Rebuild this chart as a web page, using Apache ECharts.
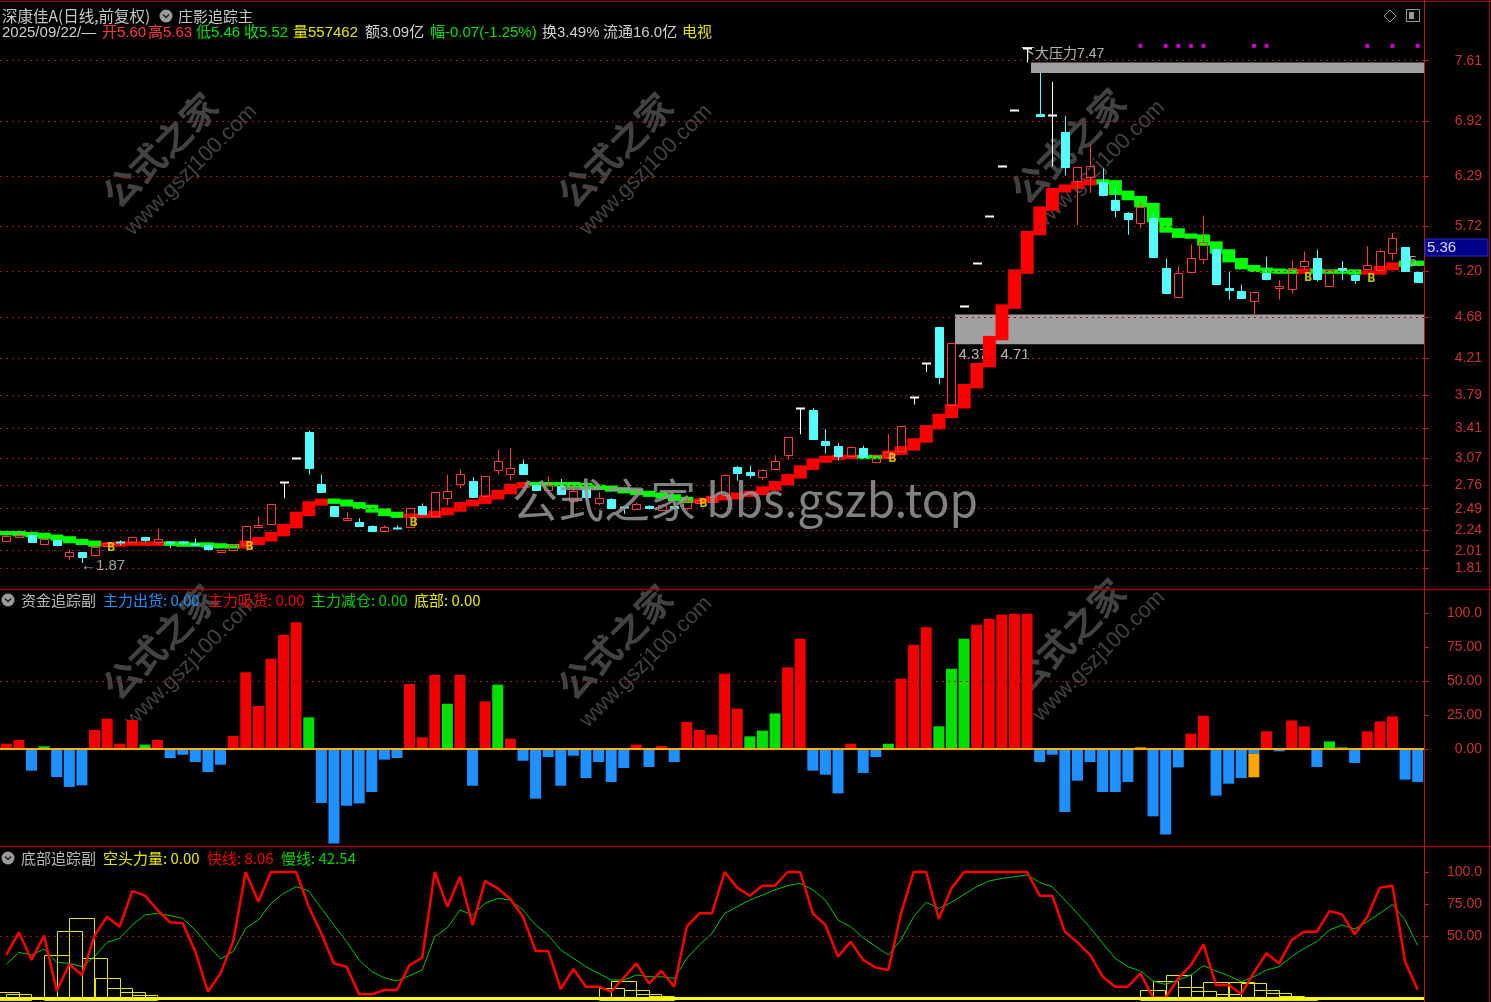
<!DOCTYPE html>
<html>
<head>
<meta charset="utf-8">
<script src="https://cdn.jsdelivr.net/npm/echarts@6.0.0/dist/echarts.min.js"></script>
<style>
html,body{margin:0;padding:0;background:#000;overflow:hidden;}
#main{width:1491px;height:1002px;}
</style>
</head>
<body>
<div id="main"></div>
<script>
// ---------------- DATA ----------------
const N = 113;
const days = Array.from({length: N}, (_, i) => i);

const opens = [
2.12,2.17,2.19,2.09,2.13,1.95,1.99,1.96,2.06,2.11,
2.11,2.17,2.11,2.11,2.11,2.09,2.07,2.00,2.02,2.07,
2.28,2.32,2.79,3.07,3.37,2.77,2.52,2.36,2.34,2.29,
2.24,2.27,2.28,2.52,2.41,2.61,2.77,2.81,2.63,2.93,
2.89,3.00,2.76,2.70,2.75,2.58,2.71,2.56,2.60,2.51,
2.49,2.52,2.48,2.52,2.50,2.56,2.57,2.65,2.97,2.91,
2.85,2.94,3.10,3.64,3.62,3.26,3.21,3.09,3.18,3.02,
3.08,3.15,3.77,4.15,4.57,3.68,4.81,5.30,5.83,6.41,
7.05,7.75,7.00,6.99,6.79,6.24,6.28,6.22,6.02,5.87,
5.75,5.81,5.24,4.91,5.19,5.34,5.46,5.01,4.98,4.86,
5.18,5.01,5.00,5.26,5.35,5.04,5.24,5.16,5.23,5.22,
5.41,5.48,5.19];
const closes = [
2.18,2.19,2.11,2.14,2.07,2.00,1.94,2.05,2.10,2.10,
2.17,2.13,2.14,2.10,2.10,2.08,2.03,2.02,2.07,2.29,
2.30,2.54,2.79,3.07,2.96,2.68,2.41,2.38,2.29,2.24,
2.28,2.26,2.50,2.43,2.68,2.69,2.89,2.62,2.86,3.04,
2.96,2.89,2.70,2.76,2.66,2.69,2.62,2.61,2.50,2.50,
2.54,2.50,2.53,2.50,2.58,2.59,2.62,2.88,2.90,2.88,
2.93,3.04,3.31,3.64,3.29,3.22,3.09,3.19,3.08,3.10,
3.14,3.43,3.77,4.15,3.99,4.38,4.81,5.30,5.83,6.41,
7.05,7.75,6.98,6.99,6.40,6.39,6.41,6.08,5.90,5.80,
5.94,5.37,4.95,5.18,5.35,5.54,5.06,4.99,4.90,4.97,
5.12,5.04,5.24,5.32,5.11,5.22,5.22,5.10,5.28,5.43,
5.58,5.21,5.08];
const highs = [
2.19,2.20,2.19,2.15,2.13,2.02,1.99,2.05,2.11,2.13,
2.17,2.17,2.26,2.11,2.12,2.15,2.08,2.02,2.07,2.29,
2.40,2.54,2.79,3.07,3.38,2.88,2.52,2.45,2.38,2.30,
2.30,2.30,2.50,2.55,2.68,2.88,2.94,2.85,2.86,3.16,
3.18,3.05,2.77,2.86,2.83,2.76,2.72,2.68,2.61,2.51,
2.56,2.53,2.55,2.54,2.63,2.62,2.70,2.88,2.98,2.98,
2.94,3.10,3.31,3.64,3.64,3.40,3.24,3.20,3.21,3.11,
3.34,3.43,3.77,4.15,4.57,4.38,4.81,5.30,5.83,6.41,
7.05,7.75,7.47,7.37,6.98,6.40,6.65,6.38,6.15,5.88,
5.99,5.87,5.35,5.26,5.51,5.84,5.46,5.20,5.05,4.97,
5.37,5.10,5.33,5.43,5.45,5.22,5.32,5.20,5.49,5.45,
5.64,5.48,5.20];
const lows = [
2.11,2.16,2.11,2.08,2.06,1.90,1.87,1.96,2.05,2.07,
2.11,2.11,2.07,2.04,2.07,2.07,2.01,1.99,2.02,2.07,
2.27,2.32,2.61,3.07,2.88,2.67,2.41,2.35,2.28,2.23,
2.23,2.25,2.27,2.42,2.41,2.53,2.72,2.61,2.63,2.88,
2.81,2.88,2.69,2.68,2.65,2.55,2.58,2.53,2.49,2.43,
2.48,2.48,2.47,2.48,2.47,2.55,2.56,2.64,2.81,2.84,
2.82,2.93,3.05,3.34,3.28,3.12,3.04,3.08,3.07,3.01,
3.06,3.14,3.68,4.05,3.91,3.66,4.81,5.30,5.83,6.41,
7.05,7.59,6.98,6.40,6.30,5.73,6.10,6.06,5.82,5.62,
5.70,5.37,4.94,4.91,5.18,5.29,5.06,4.88,4.89,4.71,
5.10,4.88,4.95,5.22,5.09,5.03,5.10,5.06,5.22,5.21,
5.33,5.21,5.07];

// trend band ("庄影" line) value and state (1 = red / up, 0 = green / down)
const bandLine = [
2.21,2.20,2.19,2.17,2.15,2.12,2.10,2.08,2.08,2.09,
2.09,2.09,2.09,2.09,2.08,2.08,2.07,2.06,2.06,2.10,
2.14,2.20,2.29,2.43,2.55,2.58,2.57,2.54,2.51,2.47,
2.43,2.41,2.41,2.41,2.44,2.48,2.54,2.57,2.62,2.68,
2.75,2.77,2.77,2.77,2.77,2.76,2.74,2.73,2.71,2.69,
2.67,2.65,2.63,2.60,2.58,2.58,2.61,2.62,2.65,2.67,
2.72,2.78,2.86,2.96,3.04,3.07,3.08,3.08,3.08,3.08,
3.13,3.18,3.27,3.42,3.55,3.66,3.89,4.13,4.44,4.80,
5.20,5.64,5.92,6.13,6.17,6.21,6.23,6.22,6.10,6.04,
5.96,5.79,5.67,5.61,5.60,5.52,5.43,5.33,5.25,5.22,
5.21,5.20,5.20,5.21,5.20,5.20,5.20,5.19,5.19,5.24,
5.28,5.30,5.29];
const bandState = [
0,0,0,0,0,0,0,0,1,1, 1,1,1,0,0,0,0,0,0,1,
1,1,1,1,1,1,0,0,0,0, 0,0,1,1,1,1,1,1,1,1,
1,1,0,0,0,0,0,0,0,0, 0,0,0,0,0,1,1,1,1,1,
1,1,1,1,1,1,1,1,0,0, 1,1,1,1,1,1,1,1,1,1,
1,1,1,1,1,1,1,0,0,0, 0,0,0,0,0,0,0,0,0,0,
0,0,0,1,0,0,0,0,1,1, 1,0,0];

const buyIdx = [8, 19, 32, 55, 70, 103, 108];
const buyVal = [2.04, 2.06, 2.33, 2.55, 3.06, 5.13, 5.12];
const signalIdx = [90, 92, 93, 94, 95, 99, 100, 108, 110, 112];
const signalVal = 7.78;
const zoneBoxes = [[81, 7.47, 7.59], [75, 4.37, 4.71]];
const priceTicks = [7.61,6.92,6.29,5.72,5.20,4.68,4.21,3.79,3.41,3.07,2.76,2.49,2.24,2.01,1.81];

// 资金追踪副
const flowVal = [
3.9,6.6,-15.9,2,-20.6,-27.9,-26.7,14,22.3,3.9,
21.3,3.2,6.6,-6.6,-4.2,-9.6,-16.9,-11.5,9.6,56.4,
31.6,66.4,83.8,93.1,23.3,-39.7,-69.4,-41.7,-40,-31.6,
-7.8,-6.6,47.8,8.6,54.4,33.3,54.4,-27,35,47.3,
7.6,-8.6,-36.5,-5.9,-27,-4.9,-21.3,-9.6,-24.3,-14,
3.2,-13.2,2.2,-9.6,19.9,14,10.5,55.4,29.7,9.3,
13.5,26.2,60,81,-15.9,-18.9,-32.6,3.9,-17.6,-5.9,
3.9,51.7,76.7,89.5,16.7,59,81,91.4,95.6,98.8,
99.5,99.5,-9.6,-4.2,-46.3,-23.3,-9.6,-31.6,-31.6,-24.3,
1.2,-49.5,-62.9,-13.5,11.3,24.5,-34.3,-25.5,-21.3,-3.4,
13,-1.7,21,16.7,-13.2,5.6,1.2,-10.3,13,20.3,
24,-22.5,-24.3];
const flowKind =
"rrbgbbbrrr" + "rgrbbbbbrr" + "rrrrgbbbbb" + "bbrrrgrbrg" + "rbbbbbbbbb" +
"rbrbrrrrrg" + "ggrrbbbrbb" + "grrrgggrrr" + "rrbbbbbbbb" + "obbbrrbbbb" +
"rbrrbggbrr" + "rbb";
const flowOrangeExtra = Array.from({length: N}, () => null);
flowOrangeExtra[99] = -17.4;
const flowTicks = [100, 75, 50, 25, 0];

// 底部追踪副
const fastLine = [
35.2,52.9,31.3,50.3,7.0,27.9,19.5,50.3,65.1,57.3,
85.2,81.5,70.3,60.7,59.9,37.8,6.5,20.8,45.6,100,
76.8,100,100,100,72.9,52,28.6,26,4.4,4.4,
7.8,7.8,27.3,33,100,72.9,96.4,58.6,93,87.2,
78.9,65.1,38.3,38.3,8.6,24.2,10.4,10.4,6.5,17.4,
28.6,13,22.7,10.4,57.3,67.7,67.7,100,87.8,81.5,
89.3,89.3,100,100,67.7,58.6,33.9,45.6,31.3,25.3,
23.4,67.7,100,100,63.3,87.2,100,100,100,100,
100,100,81.5,81.5,53.4,45,35.2,18.2,10.4,10.4,
20.8,1.8,1.8,16.9,27.3,43.5,11.7,11.7,4.7,21.4,
36.5,28.6,46.9,53.4,53.4,69.5,66.9,51.3,65.1,87.8,
89.3,29.9,8.06];
const slowLine = [
27.9,37.2,35.2,39.8,29.4,28.6,26,33.9,45,48.2,
58.6,66.4,67.7,65.9,63.8,54.7,43,32,37.8,56,
62.5,75.5,83.3,88.5,85.2,71.6,58.6,45.6,31.3,22.1,
17.4,14.8,19,23.4,49.5,56.5,70.3,66.4,75.5,79.4,
78.1,70.3,58.6,50.8,39,32.6,26,20.8,15.6,15.6,
19.5,18.2,18.2,16.9,32.6,43,52.1,67.7,72.9,78,
82,86,89.3,91.1,86,78,62.5,57.3,48.7,41.7,
35.2,46.9,65.1,76.3,71.6,76.3,82.6,88.5,93,95,
96.4,97.7,91.9,88.5,78.1,67.7,56.5,44.3,32.6,26,
22.7,14.8,12.2,15.6,19.5,26.8,22.7,19,14.3,18.2,
23.4,26,33.9,40.4,45.6,54.7,58.6,55.5,61.2,67.7,
74.7,62.5,42.54];
const bearPower = [
6.5,4.4,0,0,35.2,53.9,64.3,33,17.4,9.6,
6,3.9,0,0,0,0,0,0,0,0,
0,0,0,0,0,0,0,0,0,0,
0,0,0,0,0,0,0,0,0,0,
0,0,0,0,0,0,0,0,9.1,14.8,
7.8,4.7,3.4,0,0,0,0,0,0,0,
0,0,0,0,0,0,0,0,0,0,
0,0,0,0,0,0,0,0,0,0,
0,0,0,0,0,0,0,0,0,0,
0,7.8,14.8,19.5,10.4,7,13.8,5,13.8,13,
7.8,5.2,3.4,2.6,0,0,0,0,0,0,
0,0,0];
const lineTicks = [100, 75, 50];

// ---------------- STYLE ----------------
const LAT = '"Liberation Sans","Noto Sans CJK SC",sans-serif';
const CJK = '"Noto Sans CJK SC","Liberation Sans",sans-serif';
const UP = '#ff3c3c', DN = '#54ffff', DOJI = '#ffffff';
const AXC = '#b01c1c', LABC = '#c83232';
const GRIDC = '#8c1a1a';
const KIND = {r: '#f00000', g: '#00e000', b: '#1e90ff', o: '#ffa500'};

const candleData = opens.map((o, i) => [i, o, closes[i], lows[i], highs[i]]);
const bandData = bandLine.map((v, i) => [i, i ? bandLine[i - 1] : v, v, bandState[i]]);
const flowData = flowVal.map((v, i) => ({value: v, itemStyle: {color: KIND[flowKind[i]]}}));
const bearData = bearPower.map((v, i) => [i, v]);

function renderCandle(params, api) {
  const i = api.value(0), o = api.value(1), c = api.value(2), l = api.value(3), h = api.value(4);
  const po = api.coord([i, o]);
  const x = Math.round(po[0]) + 0.5;
  const yo = po[1], yc = api.coord([i, c])[1], yl = api.coord([i, l])[1], yh = api.coord([i, h])[1];
  let col, fill;
  if (c > o) { col = UP; fill = 'rgba(0,0,0,0)'; }
  else if (c < o) { col = DN; fill = DN; }
  else { col = DOJI; fill = DOJI; }
  const top = Math.round(Math.min(yo, yc)) + 0.5, bot = Math.round(Math.max(yo, yc)) + 0.5;
  const ch = [];
  if (yh < top - 0.5) ch.push({type: 'line', shape: {x1: x, y1: yh, x2: x, y2: top}, style: {stroke: col, lineWidth: 1}});
  if (yl > bot + 0.5) ch.push({type: 'line', shape: {x1: x, y1: bot, x2: x, y2: yl}, style: {stroke: col, lineWidth: 1}});
  if (bot - top < 1.5) {
    ch.push({type: 'rect', shape: {x: x - 4.5, y: top - 1, width: 9, height: 2}, style: {fill: col}});
  } else {
    ch.push({type: 'rect', shape: {x: x - 4, y: top, width: 8, height: bot - top}, style: {stroke: col, fill: fill, lineWidth: 1}});
  }
  return {type: 'group', children: ch};
}
function renderBand(params, api) {
  const i = api.value(0), p = api.value(1), c = api.value(2), s = api.value(3);
  const a = api.coord([i, p]), b = api.coord([i, c]);
  const w = api.size([1, 0])[0];
  const y1 = Math.min(a[1], b[1]) - 2.2, y2 = Math.max(a[1], b[1]) + 2.2;
  return {type: 'rect', shape: {x: a[0] - w / 2, y: y1, width: w + 0.3, height: y2 - y1}, style: {fill: s ? '#ff0000' : '#00ff00'}};
}
function renderBox(params, api) {
  const i = api.value(0), lo = api.value(1), hi = api.value(2);
  const p1 = api.coord([i, hi]), p2 = api.coord([i, lo]);
  const right = params.coordSys.x + params.coordSys.width;
  const x0 = Math.round(p1[0] + 4);
  return {type: 'rect', shape: {x: x0, y: p1[1], width: right - x0, height: p2[1] - p1[1]}, style: {fill: '#a0a0a0'}};
}
function renderBear(params, api) {
  const i = api.value(0), v = api.value(1);
  if (!(v > 0)) return null;
  const a = api.coord([i, v]), b = api.coord([i, 0]);
  const w = api.size([1, 0])[0];
  return {type: 'rect', shape: {x: Math.round(a[0] - w) + 0.5, y: Math.round(a[1]) + 0.5, width: Math.round(2 * w), height: Math.round(b[1] - a[1])},
          style: {stroke: '#e6e600', fill: 'rgba(0,0,0,0)', lineWidth: 1}};
}

const fmt = v => (v >= 100 ? v.toFixed(1) : v.toFixed(2));
function yAx(grid, min, max, ticks) {
  return {
    type: 'value', gridIndex: grid, position: 'right', min: min, max: max, scale: true,
    axisLine: {show: true, lineStyle: {color: AXC, width: 1}},
    axisTick: {show: true, customValues: ticks, length: 5, lineStyle: {color: AXC}},
    axisLabel: {show: true, customValues: ticks, formatter: fmt, color: LABC, fontSize: 14, fontFamily: LAT, margin: 58, align: 'right'},
    splitLine: {show: false}
  };
}
function xAx(grid) {
  return {type: 'category', gridIndex: grid, data: days, boundaryGap: true, show: false};
}
const dotted = ticks => ({
  silent: true, symbol: ['none', 'none'], label: {show: false},
  lineStyle: {color: GRIDC, type: [2, 4], width: 1},
  data: ticks.map(v => ({yAxis: v}))
});

const minLow = Math.min(...lows);
const minLowIdx = lows.indexOf(minLow);

// ---------------- GRAPHIC (headers, frame, watermark) ----------------
const g = [];
function txt(x, y, t, color, font, extra) {
  g.push(Object.assign({type: 'text', x: x, y: y, z: 50, style: {text: t, fill: color, font: font || ('15px ' + CJK), verticalAlign: 'middle'}}, extra || {}));
}
function icon(x, y) {
  g.push({type: 'circle', z: 50, shape: {cx: x, cy: y, r: 6.5}, style: {fill: '#9a9a9a'}});
  g.push({type: 'polyline', z: 51, shape: {points: [[x - 3, y - 1.5], [x, y + 1.5], [x + 3, y - 1.5]]}, style: {stroke: '#202020', lineWidth: 1.5, fill: null}});
}
const frameC = '#a00000';
g.push({type: 'line', z: 40, shape: {x1: 0, y1: 1.5, x2: 1491, y2: 1.5}, style: {stroke: frameC, lineWidth: 1}});
g.push({type: 'line', z: 40, shape: {x1: 0, y1: 589.5, x2: 1491, y2: 589.5}, style: {stroke: frameC, lineWidth: 1.5}});
g.push({type: 'line', z: 40, shape: {x1: 0, y1: 846.5, x2: 1491, y2: 846.5}, style: {stroke: frameC, lineWidth: 1.5}});
g.push({type: 'line', z: 40, shape: {x1: 1424.5, y1: 0, x2: 1424.5, y2: 1002}, style: {stroke: AXC, lineWidth: 1}});
g.push({type: 'line', z: 40, shape: {x1: 1489.5, y1: 0, x2: 1489.5, y2: 1002}, style: {stroke: frameC, lineWidth: 1}});

txt(2, 16, '深康佳A(日线,前复权)', '#c8c8c8', '15.5px ' + CJK);
icon(166, 16);
txt(178, 16, '庄影追踪主', '#c8c8c8');
g.push({type: 'polygon', z: 50, shape: {points: [[1390, 10], [1396, 16], [1390, 22], [1384, 16]]}, style: {stroke: '#9a9a9a', fill: null, lineWidth: 1}});
g.push({type: 'rect', z: 50, shape: {x: 1406.5, y: 9.5, width: 13, height: 12}, style: {stroke: '#9a9a9a', fill: null, lineWidth: 1}});
g.push({type: 'rect', z: 50, shape: {x: 1409, y: 12, width: 5, height: 7}, style: {fill: '#9a9a9a'}});
const H2 = [
  [2, '2025/09/22/—', '#d0d0d0'], [102, '开5.60', '#ff3c3c'], [148, '高5.63', '#ff3c3c'],
  [196, '低5.46', '#00e000'], [244, '收5.52', '#00e000'], [293, '量557462', '#e6e600'],
  [365, '额3.09亿', '#d0d0d0'], [430, '幅-0.07(-1.25%)', '#00e000'], [542, '换3.49%', '#d0d0d0'],
  [603, '流通16.0亿', '#d0d0d0'], [682, '电视', '#e6e600']
];
H2.forEach(h => txt(h[0], 33, h[1], h[2], '15px ' + LAT));
icon(8, 600);
txt(21, 600, '资金追踪副', '#b8b8b8');
txt(103, 600, '主力出货: 0.00', '#1e90ff', '15px ' + CJK);
txt(208, 600, '主力吸货: 0.00', '#f00000', '15px ' + CJK);
txt(311, 600, '主力减仓: 0.00', '#00d000', '15px ' + CJK);
txt(414, 600, '底部: 0.00', '#e6e600', '15px ' + CJK);
icon(8, 858);
txt(21, 858, '底部追踪副', '#b8b8b8');
txt(103, 858, '空头力量: 0.00', '#e6e600', '15px ' + CJK);
txt(207, 858, '快线: 8.06', '#f00000', '15px ' + CJK);
txt(281, 858, '慢线: 42.54', '#00d000', '15px ' + CJK);
g.push({type: 'rect', z: 60, shape: {x: 1425, y: 239, width: 63, height: 17}, style: {fill: '#000088', stroke: '#3030c0', lineWidth: 1}});
txt(1427, 248, '5.36', '#d8d8ff', '15px ' + LAT, {z: 61});
txt(1409, 262, '5.', '#a8a8a8', '14px ' + LAT, {z: 61});

const wm = [[160, 150], [615, 150], [1068, 146], [160, 642], [615, 642], [1068, 636]];
wm.forEach(p => {
  g.push({type: 'group', x: p[0], y: p[1], rotation: 0.78, z: 90, children: [
    {type: 'text', x: 0, y: 0, style: {text: '公式之家', font: 'bold 36px ' + CJK, fill: 'rgba(120,120,120,0.55)', align: 'center', verticalAlign: 'middle'}},
    {type: 'text', x: 8, y: 36, style: {text: 'www.gszj100.com', font: '22px ' + LAT, fill: 'rgba(120,120,120,0.55)', align: 'center', verticalAlign: 'middle'}}
  ]});
});
g.push({type: 'text', x: 745, y: 500, z: 95, style: {text: '公式之家 bbs.gszb.top', font: '46px ' + CJK, fill: 'rgba(150,150,150,0.85)', align: 'center', verticalAlign: 'middle'}});

// ---------------- OPTION ----------------
const option = {
  backgroundColor: '#000000',
  animation: false,
  grid: [
    {left: -2, top: 42, width: 1426, height: 547},
    {left: -2, top: 590, width: 1426, height: 256},
    {left: -2, top: 848, width: 1426, height: 154}
  ],
  xAxis: [xAx(0), xAx(1), xAx(2)],
  yAxis: [
    yAx(0, 1.572, 7.824, priceTicks),
    yAx(1, -71.3, 116.9, flowTicks),
    yAx(2, -1.56, 118.75, lineTicks)
  ],
  graphic: g,
  series: [
    {type: 'line', xAxisIndex: 0, yAxisIndex: 0, data: days.map(() => null), markLine: dotted(priceTicks), z: 1},
    {type: 'custom', name: 'zones', xAxisIndex: 0, yAxisIndex: 0, renderItem: renderBox, data: zoneBoxes, z: 2, clip: false},
    {type: 'scatter', name: 'zoneLabels', xAxisIndex: 0, yAxisIndex: 0, symbolSize: 0, z: 3,
      data: [
        {value: [zoneBoxes[1][0], zoneBoxes[1][1]], label: {offset: [7, 11], formatter: zoneBoxes[1][1].toFixed(2)}},
        {value: [zoneBoxes[1][0], zoneBoxes[1][1]], label: {offset: [49, 11], formatter: zoneBoxes[1][2].toFixed(2)}},
        {value: [zoneBoxes[0][0], zoneBoxes[0][2]], label: {offset: [-6, -8], fontSize: 14, formatter: '下大压力' + zoneBoxes[0][1].toFixed(2)}}
      ],
      label: {show: true, position: 'right', distance: 0, color: '#e0e0e0', fontSize: 15, fontFamily: LAT}},
    {type: 'custom', name: 'band', xAxisIndex: 0, yAxisIndex: 0, renderItem: renderBand, data: bandData, z: 4},
    {type: 'custom', name: 'kline', xAxisIndex: 0, yAxisIndex: 0, renderItem: renderCandle, data: candleData, z: 5, clip: false},
    {type: 'scatter', name: 'buy', xAxisIndex: 0, yAxisIndex: 0, symbolSize: 0, z: 6,
      data: buyIdx.map((d, k) => [d, buyVal[k]]),
      label: {show: true, position: 'inside', offset: [4, 0], formatter: 'B', color: '#f0f000', fontSize: 13, fontWeight: 'bold', fontFamily: '"DejaVu Sans Mono",monospace'}},
    {type: 'scatter', name: 'signal', xAxisIndex: 0, yAxisIndex: 0, symbol: 'rect', symbolSize: 4, z: 6,
      itemStyle: {color: '#ff00ff'}, data: signalIdx.map(d => [d, signalVal])},
    {type: 'scatter', name: 'lowMark', xAxisIndex: 0, yAxisIndex: 0, symbolSize: 0, z: 6,
      data: [[minLowIdx, minLow]],
      label: {show: true, position: 'right', distance: 0, offset: [-1, 3], formatter: '←' + minLow.toFixed(2), color: '#c8c8c8', fontSize: 15, fontFamily: LAT}},

    {type: 'bar', name: 'flow', xAxisIndex: 1, yAxisIndex: 1, stack: 'f', barWidth: 11, data: flowData, z: 3,
      markLine: {silent: true, symbol: ['none', 'none'], label: {show: false},
        data: [{yAxis: 50, lineStyle: {color: GRIDC, type: [2, 4], width: 1}}, {yAxis: 0, lineStyle: {color: '#ffb000', type: 'solid', width: 2}}]}},
    {type: 'bar', name: 'flowO', xAxisIndex: 1, yAxisIndex: 1, stack: 'f', barWidth: 11, data: flowOrangeExtra, itemStyle: {color: '#ffa500'}, z: 3},

    {type: 'custom', name: 'bear', xAxisIndex: 2, yAxisIndex: 2, renderItem: renderBear, data: bearData, z: 2},
    {type: 'line', name: 'slow', xAxisIndex: 2, yAxisIndex: 2, data: slowLine, showSymbol: false, z: 3,
      lineStyle: {color: '#00c800', width: 1},
      markLine: {silent: true, symbol: ['none', 'none'], label: {show: false},
        data: [{yAxis: 50, lineStyle: {color: GRIDC, type: [2, 4], width: 1}}, {yAxis: 1.2, lineStyle: {color: '#ffff00', type: 'solid', width: 3}}]}},
    {type: 'line', name: 'fast', xAxisIndex: 2, yAxisIndex: 2, data: fastLine, showSymbol: false, z: 4,
      lineStyle: {color: '#ff0000', width: 2.5}}
  ]
};

const chart = echarts.init(document.getElementById('main'), null, {renderer: 'canvas', width: 1491, height: 1002});
chart.setOption(option);
</script>
</body>
</html>
